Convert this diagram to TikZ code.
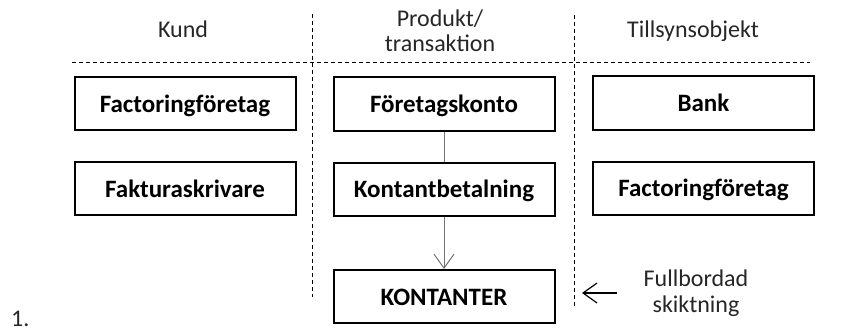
\documentclass[tikz,border=0pt]{standalone}
\usepackage{fontspec}
\setmainfont{Carlito}
\usepackage{tikz}
\usetikzlibrary{arrows.meta,positioning}

\begin{document}
\begin{tikzpicture}[x=1pt,y=-1pt,>={Straight Barb[length=14pt,width=20pt]},
		node distance=85pt,
		box node/.style={draw,line width=2pt,minimum width=221pt,minimum height=53pt,
			font=\fontsize{25}{30}\selectfont\bfseries,inner sep=0pt,
			text height=17pt,text depth=0pt},
		head node/.style={font=\fontsize{24}{25}\selectfont,align=center,text=black!85},
		sep line/.style={densely dashed,line width=0.8pt,dash pattern=on 4pt off 3pt}]
		\useasboundingbox (0,0) rectangle (841,329);
		% kolumnrubriker
		\node[head node,anchor=base] (kund) at (183,38) {Kund};
		\node[head node] (prod) at (440,30.5) {Produkt/\\transaktion};
		\node[head node,anchor=base] (tills) at (693,38) {Tillsynsobjekt};
		\draw[sep line] (72,62) -- (810,62);
		\draw[sep line] (312,14) -- (312,297);
		\draw[sep line] (574,15) -- (574,307);
		% rutor
		\node[box node] (k1) at (185,103.5) {Factoringföretag};
		\node[box node] (k2) [below of=k1] {Fakturaskrivare};
		\node[box node] (p1) at (444,104) {Företagskonto};
		\node[box node] (p2) [below of=p1,node distance=85pt] {Kontantbetalning};
		\node[box node] (p3) [below of=p2,node distance=107.5pt] {KONTANTER};
		\node[box node] (t1) at (703.5,103) {Bank};
		\node[box node] (t2) [below of=t1] {Factoringföretag};
		\path[draw=black!55,line width=1pt]
		(p1) edge (p2)
		(p2) edge[->] (p3);
		% skiktning
		\node[head node,font=\fontsize{24}{26}\selectfont] (fb) at (696,293.5) {Fullbordad\\skiktning};
		\coordinate (a1) at (617,293);
		\coordinate (a2) at (582,293);
		\draw[->,line width=1.2pt] (a1) -- (a2);
		\node[head node,anchor=base west,inner sep=0pt] (nr) at (11,326) {1.};
\end{tikzpicture}
\end{document}
